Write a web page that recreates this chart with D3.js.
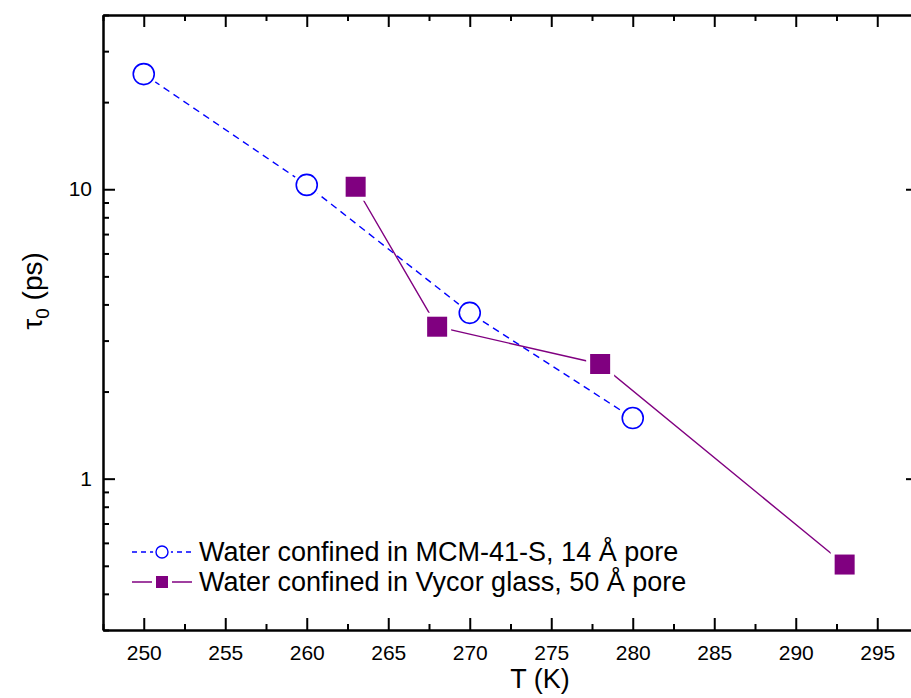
<!DOCTYPE html>
<html>
<head>
<meta charset="utf-8">
<script src="https://cdn.jsdelivr.net/npm/d3@7"></script>
<style>
  body { margin: 0; background: #fff; }
  text { font-family: "Liberation Sans", Arial, sans-serif; }
</style>
</head>
<body>
<svg width="911" height="698"></svg>
<script>
// tau_0 vs T
const tempMCM = [250, 260, 270, 280];
const tauMCM = [25.0, 10.35, 3.74, 1.62];
const tempVycor = [263, 268, 278, 293];
const tauVycor = [10.2, 3.35, 2.49, 0.505];

const xMajor = [250, 255, 260, 265, 270, 275, 280, 285, 290, 295];
const xMinor = [247.5, 252.5, 257.5, 262.5, 267.5, 272.5, 277.5, 282.5, 287.5, 292.5, 297.5];
const yMajor = [1, 10];
const yMinor = [0.3, 0.4, 0.5, 0.6, 0.7, 0.8, 0.9, 2, 3, 4, 5, 6, 7, 8, 9, 20, 30, 40];

const legendLabels = ["Water confined in MCM-41-S, 14 Å pore", "Water confined in Vycor glass, 50 Å pore"];

const svg = d3.select("svg");
const pLeft = 103, pRight = 918, pTop = 15, pBottom = 630;

const x = d3.scaleLinear().domain([247.5, 297.5]).range([pLeft, pRight]);
const y = d3.scaleLog().domain([0.3, 40]).range([pBottom, pTop]);

function styleAxis(g) {
  g.attr("font-size", 21).attr("font-family", null);
  g.select(".domain").attr("stroke-width", 2);
  g.selectAll(".tick line").attr("stroke-width", 2);
  g.selectAll(".tick text").attr("fill", "#000");
}

// bottom
svg.append("g").attr("transform", `translate(0,${pBottom})`)
  .call(d3.axisBottom(x).tickValues(xMajor).tickSize(-12).tickSizeOuter(0).tickPadding(15).tickFormat(d3.format("d")))
  .call(styleAxis);
svg.append("g").attr("transform", `translate(0,${pBottom})`)
  .call(d3.axisBottom(x).tickValues(xMinor).tickSize(-6).tickSizeOuter(0).tickFormat(""))
  .call(styleAxis);
// top
svg.append("g").attr("transform", `translate(0,${pTop})`)
  .call(d3.axisTop(x).tickValues(xMajor).tickSize(-12).tickSizeOuter(0).tickFormat(""))
  .call(styleAxis);
svg.append("g").attr("transform", `translate(0,${pTop})`)
  .call(d3.axisTop(x).tickValues(xMinor).tickSize(-6).tickSizeOuter(0).tickFormat(""))
  .call(styleAxis);
// left
svg.append("g").attr("transform", `translate(${pLeft},0)`)
  .call(d3.axisLeft(y).tickValues(yMajor).tickSize(-12).tickSizeOuter(0).tickPadding(11).tickFormat(d3.format("d")))
  .call(styleAxis);
svg.append("g").attr("transform", `translate(${pLeft},0)`)
  .call(d3.axisLeft(y).tickValues(yMinor).tickSize(-6).tickSizeOuter(0).tickFormat(""))
  .call(styleAxis);
// right
svg.append("g").attr("transform", `translate(${pRight},0)`)
  .call(d3.axisRight(y).tickValues(yMajor).tickSize(-12).tickSizeOuter(0).tickFormat(""))
  .call(styleAxis);
svg.append("g").attr("transform", `translate(${pRight},0)`)
  .call(d3.axisRight(y).tickValues(yMinor).tickSize(-6).tickSizeOuter(0).tickFormat(""))
  .call(styleAxis);

// axis titles
svg.append("text")
  .attr("x", 540).attr("y", 688)
  .attr("text-anchor", "middle").attr("font-size", 27)
  .text("T (K)");

const yTitle = svg.append("text")
  .attr("transform", "translate(42,291) rotate(-90)")
  .attr("text-anchor", "middle").attr("font-size", 28);
yTitle.append("tspan").text("τ");
yTitle.append("tspan").attr("dy", 7).attr("font-size", 19).text("0");
yTitle.append("tspan").attr("dy", -7).text(" (ps)");

const mcm = tempMCM.map((t, i) => [t, tauMCM[i]]);
const vycor = tempVycor.map((t, i) => [t, tauVycor[i]]);
const line = d3.line().x(d => x(d[0])).y(d => y(d[1]));

svg.append("path").datum(mcm)
  .attr("d", line).attr("fill", "none")
  .attr("stroke", "#0000ff").attr("stroke-width", 1.4)
  .attr("stroke-dasharray", "7,5");

svg.append("path").datum(vycor)
  .attr("d", line).attr("fill", "none")
  .attr("stroke", "#800080").attr("stroke-width", 1.4);

// white halos so the lines stop short of the markers
svg.selectAll(".halo-c").data(mcm).enter().append("circle")
  .attr("cx", d => x(d[0])).attr("cy", d => y(d[1]))
  .attr("r", 14).attr("fill", "#fff");
svg.selectAll(".halo-s").data(vycor).enter().append("rect")
  .attr("x", d => x(d[0]) - 14).attr("y", d => y(d[1]) - 14)
  .attr("width", 28).attr("height", 28).attr("fill", "#fff");

svg.selectAll(".pt-c").data(mcm).enter().append("circle")
  .attr("cx", d => x(d[0])).attr("cy", d => y(d[1]))
  .attr("r", 10.5).attr("fill", "#fff")
  .attr("stroke", "#0000ff").attr("stroke-width", 1.6);
svg.selectAll(".pt-s").data(vycor).enter().append("rect")
  .attr("x", d => x(d[0]) - 10).attr("y", d => y(d[1]) - 10)
  .attr("width", 20).attr("height", 20).attr("fill", "#800080");

// legend
const lg = svg.append("g");
const rowY = [552, 582];
lg.append("line").attr("x1", 132).attr("x2", 192).attr("y1", rowY[0]).attr("y2", rowY[0])
  .attr("stroke", "#0000ff").attr("stroke-width", 1.4).attr("stroke-dasharray", "5,4");
lg.append("circle").attr("cx", 162).attr("cy", rowY[0]).attr("r", 9).attr("fill", "#fff");
lg.append("circle").attr("cx", 162).attr("cy", rowY[0]).attr("r", 6)
  .attr("fill", "#fff").attr("stroke", "#0000ff").attr("stroke-width", 1.4);
lg.append("line").attr("x1", 132).attr("x2", 192).attr("y1", rowY[1]).attr("y2", rowY[1])
  .attr("stroke", "#800080").attr("stroke-width", 1.4);
lg.append("rect").attr("x", 152).attr("y", rowY[1] - 10).attr("width", 20).attr("height", 20).attr("fill", "#fff");
lg.append("rect").attr("x", 156).attr("y", rowY[1] - 6).attr("width", 12).attr("height", 12).attr("fill", "#800080");
lg.selectAll(".lt").data(legendLabels).enter().append("text")
  .attr("x", 199).attr("y", (d, i) => rowY[i] + 9)
  .attr("font-size", 27)
  .text(d => d);
</script>
</body>
</html>
